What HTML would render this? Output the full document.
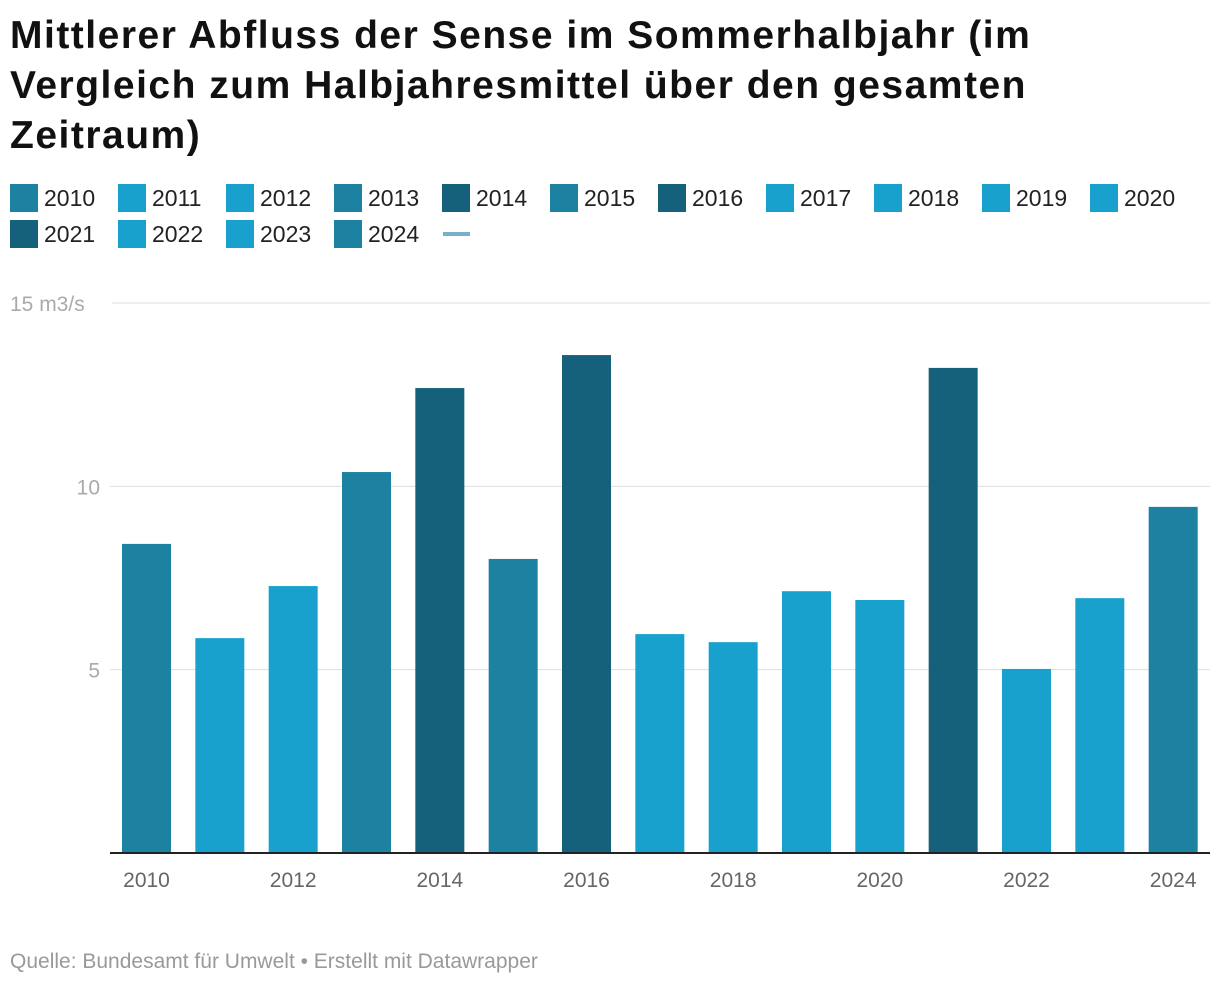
<!DOCTYPE html>
<html><head><meta charset="utf-8">
<style>
body{margin:0;background:#fff;font-family:"Liberation Sans",sans-serif;}
#wrap{position:relative;width:1220px;height:986px;overflow:hidden;}
h1{position:absolute;left:10px;top:11px;margin:0;font-size:39px;line-height:50px;font-weight:bold;color:#111;width:1060px;letter-spacing:1.5px}
.leg{position:absolute;font-size:23px;color:#222;line-height:28px}
.sw{position:absolute;width:28px;height:28px}
.foot{position:absolute;left:10px;top:950px;font-size:21px;color:#999}
</style></head><body>
<div id="wrap">
<h1>Mittlerer Abfluss der Sense im Sommerhalbjahr (im Vergleich zum Halbjahresmittel über den gesamten Zeitraum)</h1>
<div id="legend"></div>
<svg id="chart" width="1220" height="986" style="position:absolute;left:0;top:0"></svg>
<div class="foot">Quelle: Bundesamt für Umwelt • Erstellt mit Datawrapper</div>
</div>
<script>
const years=[2010,2011,2012,2013,2014,2015,2016,2017,2018,2019,2020,2021,2022,2023,2024];
const values=[8.43,5.86,7.28,10.39,12.68,8.02,13.58,5.97,5.75,7.14,6.9,13.23,5.02,6.95,9.44];
const colorClass=[1,0,0,1,2,1,2,0,0,0,0,2,0,0,1];
const yTicks=[0,5,10,15];
const yTickLabels=["","5","10","15 m3/s"];
const xTickYears=[2010,2012,2014,2016,2018,2020,2022,2024];
const palette=["#18a1cd","#1d81a2","#15607a"];
const NS="http://www.w3.org/2000/svg";
const svg=document.getElementById('chart');
const x0=110,x1=1210,yTop=303,yBot=853,yMax=15;
const band=(x1-x0)/years.length;
const y=v=>yBot-(v/yMax)*(yBot-yTop);
const xb=i=>x0+i*band;
function mk(t,a){const e=document.createElementNS(NS,t);for(const k in a)e.setAttribute(k,a[k]);svg.appendChild(e);return e;}
yTicks.forEach((t,i)=>{
 if(t>0){const g=mk('line',{x1:(i==3?112:x0),x2:x1,y1:y(t),y2:y(t),stroke:'#ddd','stroke-width':1});
 
 }
 const tx=mk('text',{x:(i==3?10:100),y:y(t)+8,'font-size':21,fill:'#aaa','text-anchor':(i==3?'start':'end'),'font-family':'Liberation Sans'});
 tx.textContent=yTickLabels[i];
 
 
});
years.forEach((yr,i)=>{
 const r=mk('rect',{x:xb(i)+12,y:y(values[i]),width:49,height:yBot-y(values[i]),fill:palette[colorClass[i]]});
 
 
 if(xTickYears.includes(yr)){
  const t=mk('text',{x:xb(i)+36.5,y:887,'font-size':21,fill:'#666','text-anchor':'middle','font-family':'Liberation Sans'});
  t.textContent=yr;
  
  
 }
});
const ax=mk('line',{x1:x0,x2:x1,y1:yBot,y2:yBot,stroke:'#222','stroke-width':2});


const leg=document.getElementById('legend');
years.forEach((yr,i)=>{
 const row=i<11?0:1,col=i<11?i:i-11;
 const left=10+col*108,top=184+row*36;
 const s=document.createElement('div');s.className='sw';s.style.left=left+'px';s.style.top=top+'px';s.style.background=palette[colorClass[i]];
 
 
 leg.appendChild(s);
 const l=document.createElement('div');l.className='leg';l.style.left=(left+34)+'px';l.style.top=(top)+'px';l.textContent=yr;
 
 
 leg.appendChild(l);
});
const ln=document.createElement('div');ln.style.cssText='position:absolute;left:443px;top:232px;width:27px;height:4px;background:#78b2c8';


leg.appendChild(ln);
</script>
</body></html>
